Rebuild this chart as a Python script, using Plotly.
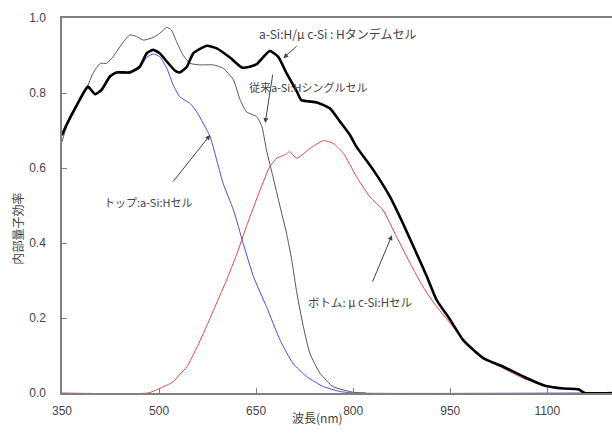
import plotly.graph_objects as go

# ---- data ----
tandem_wl = [350, 357, 373, 390, 401, 411, 424, 434, 455, 470, 481, 491, 501, 512, 525, 532, 543, 553, 574, 589,
             610, 628, 640, 651, 671, 684, 697, 713, 720, 744, 764, 780, 795, 805, 831, 857, 877, 898, 914, 929,
             950, 970, 1001, 1032, 1063, 1094, 1125, 1148, 1158, 1200]
tandem_qe = [0.688, 0.715, 0.768, 0.817, 0.797, 0.808, 0.844, 0.855, 0.855, 0.870, 0.906, 0.915, 0.906, 0.884, 0.859,
             0.855, 0.870, 0.906, 0.926, 0.919, 0.894, 0.868, 0.870, 0.877, 0.912, 0.897, 0.853, 0.804, 0.781, 0.775,
             0.759, 0.723, 0.688, 0.657, 0.595, 0.523, 0.452, 0.372, 0.310, 0.248, 0.195, 0.141, 0.093, 0.070, 0.044,
             0.021, 0.012, 0.010, 0.0, 0.0]

single_wl = [350, 357, 373, 388, 398, 409, 419, 429, 445, 455, 465, 476, 491, 501, 512, 519, 527, 537, 548, 563,
             584, 599, 615, 625, 635, 651, 659, 666, 676, 687, 697, 705, 713, 723, 733, 749, 769, 800, 820]
single_qe = [0.670, 0.710, 0.765, 0.812, 0.853, 0.879, 0.879, 0.897, 0.937, 0.955, 0.951, 0.941, 0.948, 0.959, 0.975,
             0.968, 0.937, 0.901, 0.879, 0.875, 0.875, 0.866, 0.835, 0.783, 0.750, 0.737, 0.710, 0.648, 0.577, 0.497,
             0.426, 0.355, 0.266, 0.177, 0.106, 0.052, 0.017, 0.002, 0.0]

top_wl = [350, 357, 373, 390, 401, 411, 424, 434, 455, 470, 481, 491, 501, 512, 522, 532, 548, 558, 568, 579,
          599, 615, 630, 646, 666, 687, 707, 728, 754, 780, 800, 1160]
top_qe = [0.686, 0.713, 0.766, 0.812, 0.795, 0.806, 0.842, 0.853, 0.853, 0.866, 0.895, 0.904, 0.897, 0.866, 0.821,
          0.790, 0.772, 0.750, 0.720, 0.683, 0.559, 0.488, 0.399, 0.310, 0.230, 0.141, 0.079, 0.044, 0.017, 0.004,
          0.0, 0.0]

bottom_wl = [350, 483, 501, 522, 532, 543, 558, 574, 589, 604, 620, 635, 656, 671, 682, 697, 701, 713, 733, 754,
             769, 785, 805, 826, 846, 867, 888, 908, 929, 950, 970, 996, 1032, 1063, 1094, 1125, 1148, 1158]
bottom_qe = [0.0, 0.0, 0.012, 0.030, 0.050, 0.070, 0.120, 0.180, 0.240, 0.300, 0.370, 0.444, 0.541, 0.603, 0.626,
             0.637, 0.644, 0.626, 0.652, 0.673, 0.666, 0.639, 0.577, 0.523, 0.488, 0.417, 0.346, 0.283, 0.230, 0.186,
             0.141, 0.097, 0.066, 0.039, 0.021, 0.012, 0.008, 0.0]

x_ticks = [350, 500, 650, 800, 950, 1100]
y_ticks = [0.0, 0.2, 0.4, 0.6, 0.8, 1.0]

labels = {
    "tandem": "a-Si:H/μ c-Si : Hタンデムセル",
    "single": "従来a-Si:Hシングルセル",
    "top": "トップ:a-Si:Hセル",
    "bottom": "ボトム: μ c-Si:Hセル",
}

JP = "Noto Sans CJK JP"
TXT = "#444444"

fig = go.Figure()
fig.add_trace(go.Scatter(x=bottom_wl, y=bottom_qe, mode="lines",
                         line=dict(color="#e8473f", width=1, shape="spline", smoothing=0.5)))
fig.add_trace(go.Scatter(x=top_wl, y=top_qe, mode="lines",
                         line=dict(color="#4b4be6", width=1, shape="spline", smoothing=0.5)))
fig.add_trace(go.Scatter(x=single_wl, y=single_qe, mode="lines",
                         line=dict(color="#555555", width=1, shape="spline", smoothing=0.5)))
fig.add_trace(go.Scatter(x=tandem_wl, y=tandem_qe, mode="lines",
                         line=dict(color="#000000", width=2.6, shape="spline", smoothing=0.5)))

def arrow(x, y, ax, ay):
    fig.add_annotation(x=x, y=y, ax=ax, ay=ay, xref="x", yref="y", axref="x", ayref="y",
                       text="", showarrow=True, arrowhead=2, arrowsize=1, arrowwidth=1,
                       arrowcolor="#444444")

def label(x, y, t, size=11):
    fig.add_annotation(x=x, y=y, xref="x", yref="y", text=t, showarrow=False,
                       font=dict(family=JP, size=size, color=TXT))

label(777, 0.96, labels["tandem"], 12)
arrow(692, 0.893, 715, 0.928)
label(730, 0.816, labels["single"], 11)
arrow(664, 0.72, 676, 0.853)
label(483, 0.509, labels["top"], 11)
arrow(579, 0.688, 520, 0.56)
label(811, 0.243, labels["bottom"], 11.5)
arrow(860, 0.421, 829, 0.293)

fig.add_annotation(x=-0.1, y=0.437, xref="paper", yref="paper", text="内部量子効率",
                   textangle=-90, showarrow=False, font=dict(family=JP, size=12, color=TXT))
fig.add_annotation(x=0.465, y=-0.093, xref="paper", yref="paper", text="波長(nm)",
                   showarrow=False, font=dict(family=JP, size=12, color=TXT))

fig.update_layout(
    width=612, height=437,
    margin=dict(l=62, r=0, t=18, b=44),
    paper_bgcolor="white", plot_bgcolor="white",
    showlegend=False,
    font=dict(family="Liberation Sans", size=12, color=TXT),
)
fig.update_xaxes(range=[350, 1200], tickvals=x_ticks, ticktext=[str(v) for v in x_ticks],
                 showgrid=False, zeroline=False, showline=True, linecolor="#808080", linewidth=1.5,
                 mirror=True, ticks="inside", ticklen=5, tickcolor="#808080",
                 ticklabelstandoff=6)
fig.update_yaxes(range=[0, 1.0], tickvals=y_ticks, ticktext=[f"{v:.1f}" for v in y_ticks],
                 showgrid=False, zeroline=False, showline=True, linecolor="#808080", linewidth=1.5,
                 ticks="inside", ticklen=5, tickcolor="#808080", ticklabelstandoff=12)

fig.write_html("out.html")
